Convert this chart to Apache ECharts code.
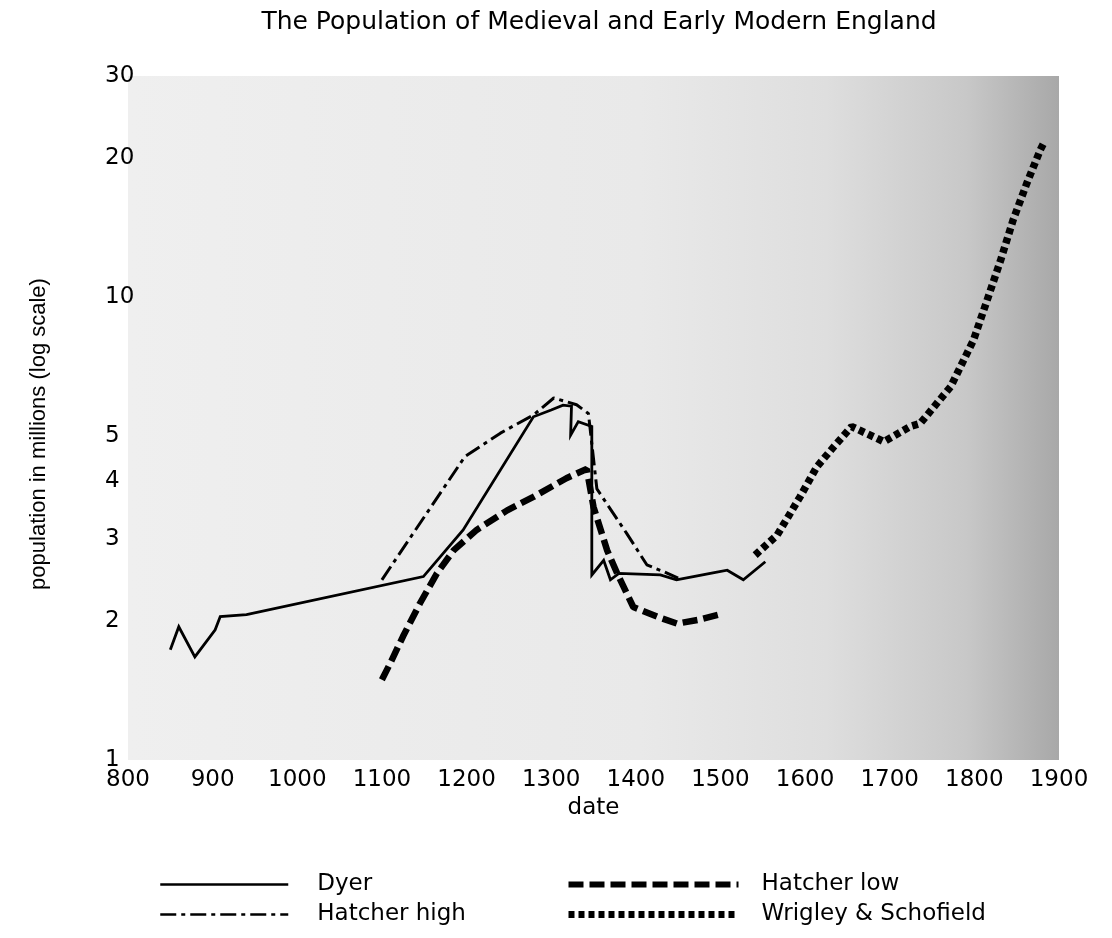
<!DOCTYPE html>
<html>
<head>
<meta charset="utf-8">
<script src="https://cdn.jsdelivr.net/npm/echarts@6/dist/echarts.min.js"></script>
<style>
  html, body { margin: 0; padding: 0; background: #ffffff; }
  #chart { width: 1112px; height: 938px; }
</style>
</head>
<body>
<div id="chart"></div>
<script>
// ---- data (year, population in millions) ----
const dyerYears = [850, 860, 879, 903, 909, 940, 1149, 1196, 1279, 1300, 1314, 1324, 1323, 1332, 1348, 1348, 1362, 1370, 1380, 1429, 1448, 1468, 1488, 1508, 1527, 1553];
const dyerPop   = [1.73, 1.94, 1.67, 1.91, 2.04, 2.06, 2.49, 3.14, 5.51, 5.70, 5.84, 5.81, 5.03, 5.38, 5.25, 2.51, 2.70, 2.45, 2.53, 2.51, 2.45, 2.49, 2.53, 2.57, 2.45, 2.68];

const hatcherHighYears = [1100, 1198, 1240, 1279, 1303, 1330, 1344, 1354, 1389, 1413, 1433, 1450];
const hatcherHighPop   = [2.45, 4.52, 5.08, 5.56, 6.05, 5.85, 5.60, 3.85, 3.09, 2.64, 2.55, 2.47];

const hatcherLowYears = [1100, 1110, 1125, 1145, 1165, 1185, 1212, 1248, 1279, 1318, 1342, 1350, 1366, 1378, 1397, 1425, 1449, 1475, 1502];
const hatcherLowPop   = [1.49, 1.62, 1.85, 2.18, 2.53, 2.84, 3.14, 3.46, 3.70, 4.06, 4.25, 3.52, 2.84, 2.53, 2.14, 2.04, 1.97, 2.01, 2.07];

const wsYears = [1541, 1567, 1594, 1614, 1634, 1655, 1693, 1724, 1736, 1772, 1799, 1815, 1831, 1846, 1862, 1878, 1882];
const wsPop   = [2.77, 3.06, 3.70, 4.30, 4.75, 5.25, 4.87, 5.25, 5.33, 6.40, 8.07, 9.83, 12.0, 14.7, 17.6, 20.8, 21.5];

const yTickValues = [1, 2, 3, 4, 5, 10, 20, 30];
const seriesNames = ['Dyer', 'Hatcher high', 'Hatcher low', 'Wrigley & Schofield'];
const titleText = 'The Population of Medieval and Early Modern England';
const xAxisName = 'date';
const yAxisName = 'population in millions (log scale)';

function pairs(xs, ys) { return xs.map((x, i) => [x, ys[i]]); }

const FONT = 'DejaVu Sans';
const chart = echarts.init(document.getElementById('chart'), null, { renderer: 'canvas' });

chart.setOption({
  backgroundColor: '#ffffff',
  animation: false,
  color: ['#000', '#000', '#000', '#000'],
  title: {
    text: titleText,
    left: 594,
    top: 5,
    textAlign: 'center',
    textStyle: { fontFamily: FONT, fontSize: 25, fontWeight: 'normal', color: '#000' }
  },
  grid: {
    left: 128, right: 53, top: 76, bottom: 178,
    show: true,
    borderWidth: 0,
    backgroundColor: new echarts.graphic.LinearGradient(0, 0, 1, 0, [
      { offset: 0, color: '#efefef' },
      { offset: 0.55, color: '#e9e9e9' },
      { offset: 0.75, color: '#dedede' },
      { offset: 0.9, color: '#c8c8c8' },
      { offset: 1, color: '#a8a8a8' }
    ])
  },
  xAxis: {
    type: 'value',
    min: 800, max: 1900, interval: 100,
    name: xAxisName,
    nameLocation: 'middle',
    nameGap: 36,
    nameTextStyle: { fontFamily: FONT, fontSize: 23, color: '#000' },
    axisLine: { show: false },
    axisTick: { show: false },
    splitLine: { show: false },
    axisLabel: { fontFamily: FONT, fontSize: 23, color: '#000', margin: 9, formatter: v => String(v) }
  },
  yAxis: {
    type: 'log',
    logBase: 10,
    min: 1, max: 30,
    name: yAxisName,
    nameLocation: 'middle',
    nameGap: 78,
    nameTextStyle: { fontFamily: 'Liberation Sans', fontSize: 22, color: '#000', padding: [0, 32, 0, 0] },
    axisLine: { show: false },
    axisTick: { show: false },
    splitLine: { show: false },
    minorSplitLine: { show: false },
    axisLabel: {
      customValues: yTickValues,
      fontFamily: FONT, fontSize: 23, color: '#000',
      align: 'left', margin: 23,
      formatter: v => String(Math.round(v))
    }
  },
  legend: [
    {
      data: [
        { name: seriesNames[0], lineStyle: { width: 2.5 } },
        { name: seriesNames[1], lineStyle: { width: 2.5 } }
      ],
      orient: 'vertical',
      left: 154, top: 868,
      itemWidth: 128, itemHeight: 14, itemGap: 7,
      itemStyle: { opacity: 0 },
      textStyle: { fontFamily: FONT, fontSize: 23, color: '#000', padding: [0, 0, 0, 24] }
    },
    {
      data: [
        { name: seriesNames[2], lineStyle: { width: 6 } },
        { name: seriesNames[3], lineStyle: { width: 7 } }
      ],
      orient: 'vertical',
      left: 560, top: 868,
      itemWidth: 170, itemHeight: 14, itemGap: 7,
      itemStyle: { opacity: 0 },
      textStyle: { fontFamily: FONT, fontSize: 23, color: '#000', padding: [0, 0, 0, 18] }
    }
  ],
  series: [
    {
      name: seriesNames[0], type: 'line', data: pairs(dyerYears, dyerPop),
      symbol: 'none', showSymbol: false, z: 4, itemStyle: { color: '#000' },
      lineStyle: { color: '#000', width: 2.8, type: 'solid', join: 'miter' }
    },
    {
      name: seriesNames[1], type: 'line', data: pairs(hatcherHighYears, hatcherHighPop),
      symbol: 'none', showSymbol: false, z: 3, itemStyle: { color: '#000' },
      lineStyle: { color: '#000', width: 3, type: [16, 5, 4, 5] }
    },
    {
      name: seriesNames[2], type: 'line', data: pairs(hatcherLowYears, hatcherLowPop),
      symbol: 'none', showSymbol: false, z: 2, itemStyle: { color: '#000' },
      lineStyle: { color: '#000', width: 6.5, type: [15, 6] }
    },
    {
      name: seriesNames[3], type: 'line', data: pairs(wsYears, wsPop),
      symbol: 'none', showSymbol: false, z: 2, itemStyle: { color: '#000' },
      lineStyle: { color: '#000', width: 7.5, type: [6, 4] }
    }
  ]
});
</script>
</body>
</html>
